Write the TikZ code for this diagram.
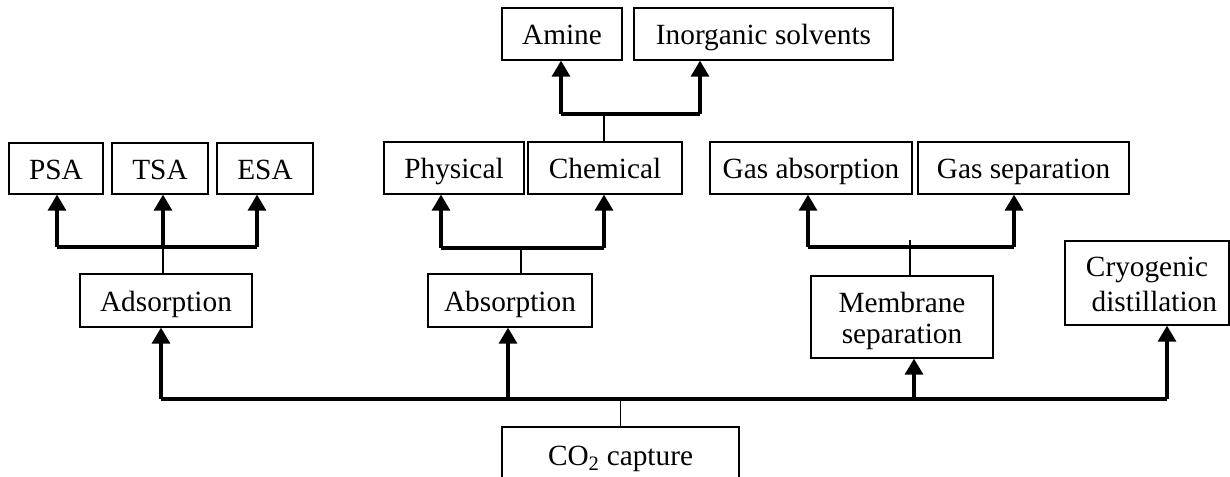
\documentclass[tikz,border=0pt]{standalone}
\usepackage{fontspec}
\setmainfont{Liberation Serif}
\usetikzlibrary{arrows.meta}
\tikzset{
  box/.style={draw=black, line width=1.3pt, fill=white, inner sep=0pt, align=center,
    text height=25pt, text depth=4pt, font=\fontsize{29.3}{33}\selectfont},
  arr/.style={line width=3.2pt, -{Triangle[width=18pt,length=16pt]}},
  bus/.style={line width=3.2pt},
  stem/.style={line width=1.6pt},
}
\begin{document}
\begin{tikzpicture}[x=1pt,y=-1pt]
\clip (0,0) rectangle (1230,476);
\fill[white] (0,0) rectangle (1230,476);
% top row
\node[box, minimum width=120pt, minimum height=52pt] (amine) at (562,34) {Amine};
\node[box, minimum width=259pt, minimum height=52pt] (inorg) at (763.5,34) {Inorganic solvents};
% second row
\node[box, minimum width=94pt, minimum height=51pt] (psa) at (56,168.5) {PSA};
\node[box, minimum width=96pt, minimum height=51pt] (tsa) at (160,168.5) {TSA};
\node[box, minimum width=96pt, minimum height=51pt] (esa) at (265,168.5) {ESA};
\node[box, minimum width=140pt, minimum height=52pt] (phys) at (454,168) {Physical};
\node[box, minimum width=154pt, minimum height=52pt] (chem) at (605,168) {Chemical};
\node[box, minimum width=202pt, minimum height=52pt] (gabs) at (811,168) {Gas absorption};
\node[box, minimum width=211pt, minimum height=52pt] (gsep) at (1023.5,168) {Gas separation};
% third row
\node[box, minimum width=172pt, minimum height=53pt] (ads) at (166,300.5) {Adsorption};
\node[box, minimum width=164pt, minimum height=53pt] (abs) at (510,300.5) {Absorption};
\node[box, minimum width=182pt, minimum height=82pt, text height=56pt, text depth=4pt,
  font=\fontsize{29.3}{31}\selectfont] (mem) at (902,317) {Membrane\\separation};
\node[box, minimum width=164pt, minimum height=84pt, text height=60pt, text depth=4pt,
  font=\fontsize{29.3}{35}\selectfont] (cryo) at (1147,283) {Cryogenic\\\,\,\,distillation};
% bottom
\node[box, minimum width=237pt, minimum height=56pt] (co2) at (620.5,455) {CO\textsubscript{2} capture};
% main bus
\coordinate (b1) at (161,399);
\coordinate (b2) at (508,399);
\coordinate (b3) at (914,399);
\coordinate (b4) at (1167,399);
\draw[stem] (co2.north) -- (co2.north |- b1);
\draw[bus] (b1) -- (b4);
\draw[arr] (b1) -- (b1 |- ads.south);
\draw[arr] (b2) -- (b2 |- abs.south);
\draw[arr] (b3) -- (b3 |- mem.south);
\draw[arr] (b4) -- (b4 |- cryo.south);
% adsorption subtree
\coordinate (a0) at (163,247);
\coordinate (a1) at (57,247);
\coordinate (a2) at (257,247);
\draw[stem] (a0 |- ads.north) -- (a0);
\draw[bus] (a1) -- (a2);
\draw[arr] (a1) -- (a1 |- psa.south);
\draw[arr] (a0) -- (a0 |- tsa.south);
\draw[arr] (a2) -- (a2 |- esa.south);
% absorption subtree
\coordinate (s0) at (521,248);
\coordinate (s1) at (441,248);
\coordinate (s2) at (604,248);
\draw[stem] (s0 |- abs.north) -- (s0);
\draw[bus] (s1) -- (s2);
\draw[arr] (s1) -- (s1 |- phys.south);
\draw[arr] (s2) -- (s2 |- chem.south);
% chemical subtree
\coordinate (c0) at (604,114);
\coordinate (c1) at (561,114);
\coordinate (c2) at (700,114);
\draw[stem] (c0 |- chem.north) -- (c0);
\draw[bus] (c1) -- (c2);
\draw[arr] (c1) -- (c1 |- amine.south);
\draw[arr] (c2) -- (c2 |- inorg.south);
% membrane subtree
\coordinate (m0) at (910,247);
\coordinate (m1) at (808,247);
\coordinate (m2) at (1014,247);
\draw[stem] (m0 |- mem.north) -- ([yshift=7pt]m0);
\draw[bus] (m1) -- (m2);
\draw[arr] (m1) -- (m1 |- gabs.south);
\draw[arr] (m2) -- (m2 |- gsep.south);
\end{tikzpicture}
\end{document}
